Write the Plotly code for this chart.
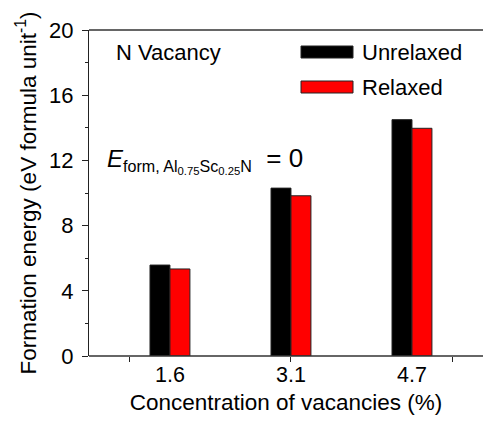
import plotly.graph_objects as go

# Vacancy concentrations and formation energies (eV per formula unit)
concentrations = ["1.6", "3.1", "4.7"]
unrelaxed = [5.58, 10.3, 14.5]
relaxed = [5.34, 9.83, 13.97]
series_names = ["Unrelaxed", "Relaxed"]
series_colors = ["#000000", "#ff0000"]

positions = list(range(1, len(concentrations) + 1))
FONT = "Arial, Liberation Sans, sans-serif"

W, H = 483, 423
L, R, T, B = 89, 0, 30, 67

fig = go.Figure()
for name, vals, col in zip(series_names, [unrelaxed, relaxed], series_colors):
    fig.add_trace(go.Bar(
        x=positions, y=vals, name=name,
        marker=dict(color=col, line=dict(color="#222222", width=1)),
        showlegend=False,
    ))

# invisible trace that carries the secondary tick axis
fig.add_trace(go.Scatter(x=[positions[0]], y=[0], xaxis="x2", mode="markers",
                         marker=dict(opacity=0), showlegend=False, hoverinfo="skip"))

xr = [0.331, 3.587]
fig.update_layout(
    width=W, height=H,
    margin=dict(l=L, r=R, t=T, b=B, pad=0),
    paper_bgcolor="white", plot_bgcolor="white",
    barmode="group", bargap=0.67, bargroupgap=0,
    font=dict(family=FONT, size=22, color="black"),
    xaxis=dict(
        range=xr, tickvals=positions, ticktext=concentrations,
        ticks="", showgrid=False, zeroline=False, showline=False,
        tickfont=dict(size=21.5), ticklabelstandoff=3,
        title=dict(text="Concentration of vacancies (%)", font=dict(size=22.5), standoff=8),
    ),
    xaxis2=dict(
        overlaying="x", matches="x", range=xr, side="bottom",
        tickvals=[0.669, 2.0, 3.331], ticks="outside", ticklen=5, tickwidth=1,
        tickcolor="#222222", showticklabels=False, showgrid=False, zeroline=False,
    ),
    yaxis=dict(
        range=[0, 20], tickvals=[0, 4, 8, 12, 16, 20],
        ticks="outside", ticklen=6, tickwidth=1, tickcolor="#222222",
        minor=dict(tickvals=[2, 6, 10, 14, 18], ticks="outside", ticklen=3,
                   tickcolor="#222222", tickwidth=1),
        showgrid=False, zeroline=False,
        showline=True, linecolor="#222222", linewidth=1,
        tickfont=dict(size=22), ticklabelstandoff=4,
        title=dict(text="Formation energy (eV formula unit<sup>-1</sup>)",
                   font=dict(size=22.5), standoff=6),
    ),
)

# bottom and top frame lines spanning the full plot width
for yy in (0, 1):
    fig.add_shape(type="line", xref="paper", yref="paper", x0=0, x1=1, y0=yy, y1=yy,
                  line=dict(color="#333333", width=1.3), layer="above")

pw, ph = W - L - R, H - T - B
def px(x):
    return (x - L) / pw
def py(y):
    return (H - B - y) / ph

# legend drawn as long swatches with labels
for i, (name, col) in enumerate(zip(series_names, series_colors)):
    yc = 52 + i * 35
    fig.add_shape(type="rect", xref="paper", yref="paper",
                  x0=px(301), x1=px(353), y0=py(yc - 6), y1=py(yc + 6),
                  fillcolor=col, line=dict(color="#222222", width=1))
    fig.add_annotation(xref="paper", yref="paper", x=px(360), y=py(yc),
                       text=name, showarrow=False, xanchor="left", yanchor="middle",
                       font=dict(size=22))

fig.add_annotation(xref="paper", yref="paper", x=px(114), y=py(52),
                   text="N Vacancy", showarrow=False, xanchor="left", yanchor="middle",
                   font=dict(size=22))

fig.add_annotation(
    xref="paper", yref="paper", x=px(105), y=py(160),
    text="<i>E</i><span style='font-size:23px'><sub>form, Al<sub>0.75</sub>Sc<sub>0.25</sub>N</sub></span>"
         "<span style='font-size:26px'>&nbsp; = 0</span>",
    showarrow=False, xanchor="left", yanchor="middle",
    font=dict(size=24),
)

fig.write_html("out.html")
